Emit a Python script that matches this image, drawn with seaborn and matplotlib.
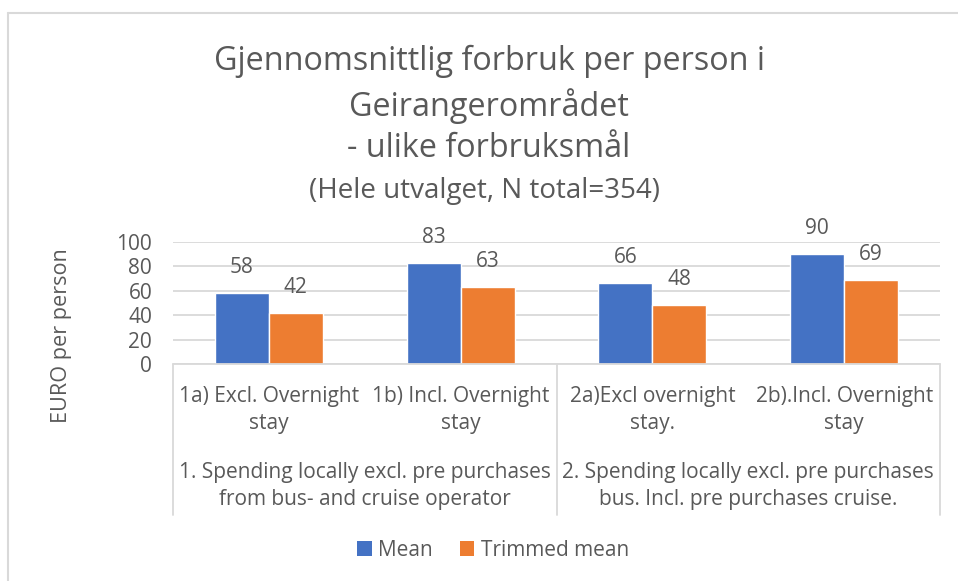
import matplotlib
matplotlib.use("Agg")
import matplotlib.pyplot as plt
import seaborn as sns
import pandas as pd
from matplotlib.lines import Line2D
from matplotlib.patches import Patch

categories = ["1a) Excl. Overnight\nstay", "1b) Incl. Overnight\nstay",
              "2a)Excl overnight\nstay.", "2b).Incl. Overnight\nstay"]
groups = ["1. Spending locally excl. pre purchases\nfrom bus- and cruise operator",
          "2. Spending locally excl. pre purchases\nbus. Incl. pre purchases cruise."]
mean_vals = [58, 83, 66, 90]
trimmed_vals = [42, 63, 48, 69]
series = ["Mean", "Trimmed mean"]
colors = ["#4472C4", "#ED7D31"]
yticks = [0, 20, 40, 60, 80, 100]

sns.set_theme(style="white")
plt.rcParams['font.family'] = ['Open Sans', 'DejaVu Sans']
TXT = "#595959"
FS = 15

df = pd.DataFrame({
    "cat": categories * 2,
    "val": mean_vals + trimmed_vals,
    "series": [series[0]] * 4 + [series[1]] * 4,
})

W, H = 958, 581
fig = plt.figure(figsize=(W / 100, H / 100), dpi=100)
ax = fig.add_axes([173 / W, 1 - 364 / H, (940 - 173) / W, (364 - 242) / H])

sns.barplot(data=df, x="cat", y="val", hue="series", palette=colors,
            width=0.5625, gap=0, ax=ax, legend=False, saturation=1)

ax.set_ylim(0, 100)
ax.set_xlim(-0.5, 3.5)
ax.set_yticks(yticks)
ax.set_yticklabels([str(t) for t in yticks], fontsize=FS, color=TXT)
ax.tick_params(axis='y', length=0, pad=15)
ax.set_xticks([])
ax.set_xlabel("")
ax.set_ylabel("")
ax.grid(axis='y', color="#d9d9d9", lw=1.3)
ax.set_axisbelow(True)
for s in ax.spines.values():
    s.set_visible(False)

# data labels
for cont in ax.containers:
    for bar in cont:
        h = bar.get_height()
        ax.annotate(f"{h:.0f}", (bar.get_x() + bar.get_width() / 2, h),
                    xytext=(0, 18.5), textcoords="offset points",
                    ha="center", va="center", fontsize=FS, color=TXT,
                    annotation_clip=False)

# multi-level category axis
trans = ax.get_xaxis_transform()
def yax(py):
    return (364 - py) / (364 - 242)

ax.add_line(Line2D([-0.5, 3.5], [0, 0], transform=trans, color="#d9d9d9", lw=1.3, clip_on=False))
for xv in [-0.5, 1.5, 3.5]:
    ax.add_line(Line2D([xv, xv], [0, yax(515)], transform=trans, color="#d9d9d9",
                       lw=1.3, clip_on=False))
for i, c in enumerate(categories):
    ax.text(i, yax(410), c, transform=trans, ha="center", va="center",
            fontsize=FS, color=TXT, linespacing=1.38, clip_on=False)
for j, g in enumerate(groups):
    ax.text(2 * j + 0.5, yax(486), g, transform=trans, ha="center", va="center",
            fontsize=FS, color=TXT, linespacing=1.38, clip_on=False)

# y label
fig.text(61 / W, 1 - 336 / H, "EURO per person", rotation=90, ha="center",
         va="center", fontsize=15.6, color=TXT)

# titles
fig.text(489 / W, 1 - 105 / H, "Gjennomsnittlig forbruk per person i\nGeirangerområdet\n- ulike forbruksmål",
         ha="center", va="center", fontsize=23.3, color=TXT, linespacing=1.35)
fig.text(485 / W, 1 - 191 / H, "(Hele utvalget, N total=354)", ha="center",
         va="center", fontsize=20, color=TXT)

# legend
handles = [Patch(facecolor=c, edgecolor='none') for c in colors]
fig.legend(handles, series, loc="center", bbox_to_anchor=(493 / W, 1 - 550 / H),
           ncol=2, frameon=False, fontsize=15, labelcolor=TXT,
           handlelength=0.7, handleheight=0.7, handletextpad=0.3, columnspacing=1.3)

# chart border (top and left visible)
fig.add_artist(Line2D([8 / W, 8 / W], [0, 1 - 13 / H], transform=fig.transFigure,
                      color="#d9d9d9", lw=1.5))
fig.add_artist(Line2D([8 / W, 1], [1 - 13 / H, 1 - 13 / H], transform=fig.transFigure,
                      color="#d9d9d9", lw=1.5))

fig.savefig("out.png", dpi=100, facecolor="white")
